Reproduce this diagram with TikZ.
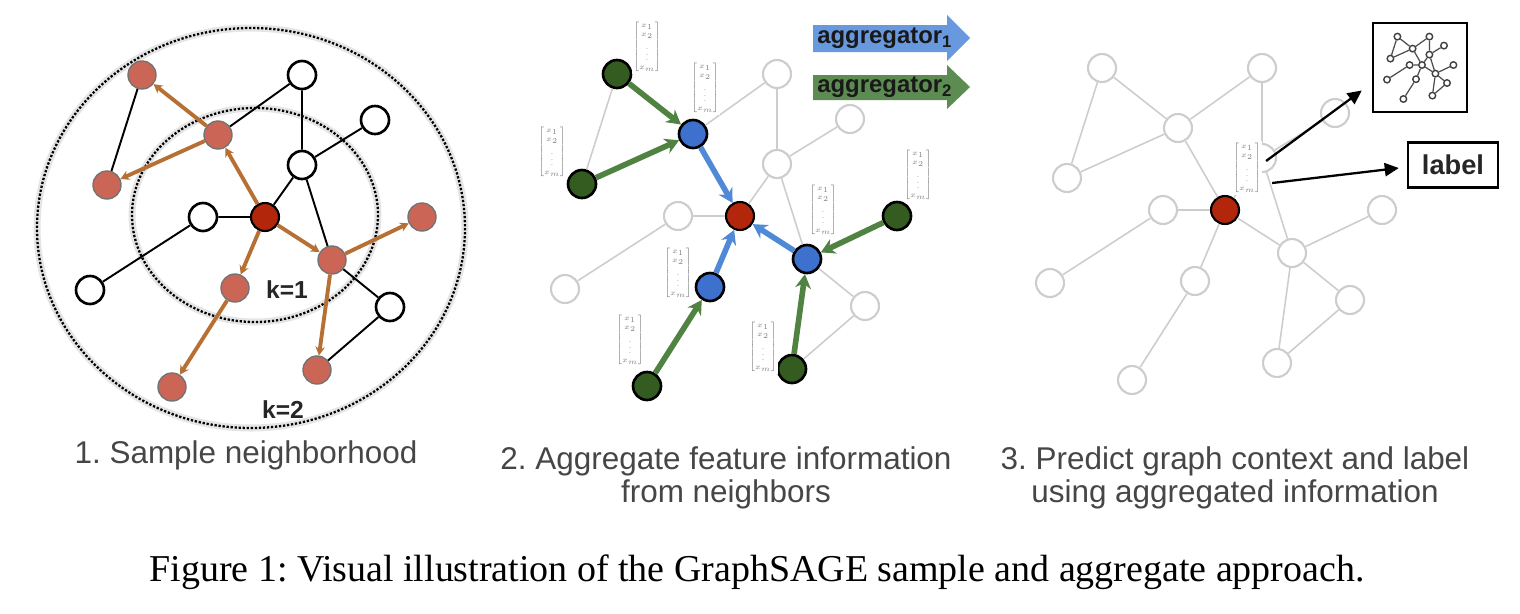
\documentclass[tikz,border=0pt]{standalone}
\usepackage{amsmath}
\usepackage{graphicx}
\usepackage{xcolor}
\usepackage{fontspec}
\setmainfont{Liberation Serif}
\setsansfont{Liberation Sans}
\usepackage{tikz}
\usetikzlibrary{arrows.meta}
\usetikzlibrary{calc}

\definecolor{samplered}{RGB}{203,102,86}
\definecolor{rootred}{RGB}{178,38,12}
\definecolor{sampleorange}{RGB}{183,112,52}
\definecolor{nodegreen}{RGB}{52,92,32}
\definecolor{arrowgreen}{RGB}{80,130,66}
\definecolor{nodeblue}{RGB}{62,112,205}
\definecolor{arrowblue}{RGB}{80,138,214}
\definecolor{aggblue}{RGB}{104,152,222}
\definecolor{agggreen}{RGB}{92,140,82}
\definecolor{fadegray}{RGB}{205,205,205}
\definecolor{captiongray}{RGB}{70,70,70}

\newcommand{\featvec}{\scalebox{0.85}{$\begin{bmatrix}x_1\\x_2\\\vdots\\x_m\end{bmatrix}$}}

\begin{document}
\frenchspacing
\begin{tikzpicture}[x=0.02cm,y=-0.02cm,
    vtx/.style={circle,minimum size=0.56cm,inner sep=0pt,line width=1.5pt},
    whitenode/.style={vtx,draw=black,fill=white},
    samplenode/.style={vtx,draw=black!55,line width=0.8pt,fill=samplered},
    rootnode/.style={vtx,draw=black,line width=1.2pt,fill=rootred},
    fadenode/.style={vtx,draw=fadegray,line width=1.2pt,fill=white},
    bluenode/.style={vtx,draw=black,fill=nodeblue},
    greennode/.style={vtx,draw=black,fill=nodegreen},
    link/.style={line width=1.1pt},
    fadelink/.style={draw=fadegray,line width=0.9pt},
    samplearrow/.style={draw=sampleorange,line width=2.2pt,-{Stealth[length=5pt,width=5.5pt]}},
    greenarrow/.style={draw=arrowgreen,line width=3.2pt,-{Stealth[length=8pt,width=9pt]}},
    bluearrow/.style={draw=arrowblue,line width=3.2pt,-{Stealth[length=8pt,width=9pt]}},
    predictarrow/.style={line width=1.3pt,-{Triangle[length=8pt,width=7.5pt]}},
    ring/.style={densely dotted,line width=1.3pt},
    ringhalo/.style={draw=black!10,line width=4pt},
    feat/.style={font=\tiny,text=black!50,fill=white,inner sep=0.6pt},
    klabel/.style={font=\sffamily\bfseries\fontsize{14}{16}\selectfont,text=black!85},
    aggtext/.style={font=\sffamily\bfseries\fontsize{13.6}{16}\selectfont,text=black!90,inner sep=0pt},
    boxed/.style={draw,line width=1.4pt,inner sep=0pt},
    mininode/.style={circle,minimum size=0.13cm,inner sep=0pt,draw=black!75,line width=0.8pt,fill=white},
    minilink/.style={draw=black!70,line width=0.7pt},
    captext/.style={font=\sffamily\fontsize{17.9}{18.7}\selectfont,text=captiongray,align=center},
    figcap/.style={font=\rmfamily\fontsize{21.6}{24}\selectfont}]

    \useasboundingbox (0,0) rectangle (1520,613);

    % 1. sampling
    \begin{scope}[name prefix=s-]
        \draw[ringhalo] (251,228) ellipse [x radius=214, y radius=200];
        \draw[ring] (251,228) ellipse [x radius=214, y radius=200];
        \draw[ringhalo] (255,215) ellipse [x radius=123, y radius=107];
        \draw[ring] (255,215) ellipse [x radius=123, y radius=107];

        \foreach \n/\x/\y/\s in {a/142/75/samplenode, b/107/185/samplenode, c/218/135/samplenode,
                d/302/75/whitenode, e/375/120/whitenode, f/302/165/whitenode, g/203/217/whitenode,
                o/265/217/rootnode, h/90/290/whitenode, i/235/288/samplenode, j/332/260/samplenode,
                k/422/217/samplenode, l/390/307/whitenode, m/317/370/samplenode, n/172/387/samplenode}
            \node[\s] (\n) at (\x,\y) {};

        \draw[link] (a) -- (b) (c) -- (d) (d) -- (f) (f) -- (e) (f) -- (o)
            (o) -- (g) (g) -- (h) (f) -- (j) (j) -- (l) (l) -- (m);
        \foreach \u/\v in {c/a, c/b, o/c, o/i, o/j, j/k, j/m, i/n}
            \draw[samplearrow] (\u) -- (\v);

        \node[klabel] (k1) at (287,290) {k=1};
        \node[klabel] (k2) at (283,410) {k=2};
    \end{scope}

    % 2. aggregation
    \begin{scope}[shift={(475,-1)},name prefix=a-]
        \foreach \n/\x/\y/\s in {a/142/75/greennode, b/107/185/greennode, c/218/135/bluenode,
                d/302/75/fadenode, e/375/120/fadenode, f/302/165/fadenode, g/203/217/fadenode,
                o/265/217/rootnode, h/90/290/fadenode, i/235/288/bluenode, j/332/260/bluenode,
                k/422/217/greennode, l/390/307/fadenode, m/317/370/greennode, n/172/387/greennode}
            \node[\s] (\n) at (\x,\y) {};

        \draw[fadelink] (a) -- (b) (c) -- (d) (d) -- (f) (f) -- (e) (f) -- (o)
            (o) -- (g) (g) -- (h) (f) -- (j) (j) -- (l) (l) -- (m);
        \foreach \u/\v in {a/c, b/c, k/j, m/j, n/i}
            \draw[greenarrow] (\u) -- (\v);
        \foreach \u/\v in {c/o, i/o, j/o}
            \draw[bluearrow] (\u) -- (\v);

        \foreach \n/\x/\y in {a/172/48, c/230/89, b/77/153, i/203/274,
                j/348/211, k/443/176, n/155/341, m/288/348}
            \node[feat] (v\n) at (\x,\y) {\featvec};
    \end{scope}

    \fill[aggblue] (813,25) -- (947,25) -- (947,15) -- (970,38) -- (947,61) -- (947,52) -- (813,52) -- cycle;
    \node[aggtext,anchor=west] (agg1) at (817,38) {aggregator\textsubscript{1}};
    \fill[agggreen] (813,75) -- (947,75) -- (947,65) -- (970,87) -- (947,109) -- (947,100) -- (813,100) -- cycle;
    \node[aggtext,anchor=west] (agg2) at (817,87) {aggregator\textsubscript{2}};

    % 3. prediction
    \begin{scope}[shift={(960,-7)},name prefix=p-]
        \foreach \n/\x/\y/\s in {a/142/75/fadenode, b/107/185/fadenode, c/218/135/fadenode,
                d/302/75/fadenode, e/375/120/fadenode, f/302/165/fadenode, g/203/217/fadenode,
                o/265/217/rootnode, h/90/290/fadenode, i/235/288/fadenode, j/332/260/fadenode,
                k/422/217/fadenode, l/390/307/fadenode, m/317/370/fadenode, n/172/387/fadenode}
            \node[\s] (\n) at (\x,\y) {};

        \draw[fadelink] (a) -- (b) (a) -- (c) (b) -- (c) (c) -- (d) (c) -- (o) (d) -- (f)
            (f) -- (e) (f) -- (o) (f) -- (j) (o) -- (g) (g) -- (h) (o) -- (i) (i) -- (n)
            (o) -- (j) (j) -- (k) (j) -- (l) (j) -- (m) (l) -- (m);

        \node[feat] (v) at (287,175) {\featvec};
    \end{scope}

    \node[boxed,minimum width=1.88cm,minimum height=1.78cm] (ctx) at (1420,67.5) {};
    \begin{scope}[shift={(1369,21.6)},scale=0.2,name prefix=m-]
        \foreach \n/\x/\y in {a/142/75, b/107/185, c/218/135, d/302/75, e/375/120,
                f/302/165, g/203/217, o/265/217, h/90/290, i/235/288, j/332/260,
                k/422/217, l/390/307, m/317/370, n/172/387}
            \node[mininode] (\n) at (\x,\y) {};
        \draw[minilink] (a) -- (b) (a) -- (c) (b) -- (c) (c) -- (d) (c) -- (o) (d) -- (f)
            (f) -- (e) (f) -- (o) (f) -- (j) (o) -- (g) (g) -- (h) (o) -- (i) (i) -- (n)
            (o) -- (j) (j) -- (k) (j) -- (l) (j) -- (m) (l) -- (m);
    \end{scope}
    \node[boxed,minimum width=1.8cm,minimum height=0.9cm,font=\sffamily\bfseries\fontsize{15.5}{18}\selectfont,text=black!85] (lbl) at (1453,165) {label};

    \draw[predictarrow] ([shift={(4,-7)}]p-v.east) -- ([shift={(-10,23)}]ctx.west);
    \draw[predictarrow] ([shift={(10,15)}]p-v.east) -- ([shift={(-8,3)}]lbl.west);

    % captions
    \node[captext] (cap1) at (246,455) {1. Sample neighborhood};
    \node[captext] (cap2) at (726,478) {2. Aggregate feature information\\from neighbors};
    \node[captext] (cap3) at (1235,478) {3. Predict graph context and label\\using aggregated information};
    \node[figcap] (fig) at (757,572) {Figure 1: Visual illustration of the GraphSAGE sample and aggregate approach.};
\end{tikzpicture}
\end{document}
